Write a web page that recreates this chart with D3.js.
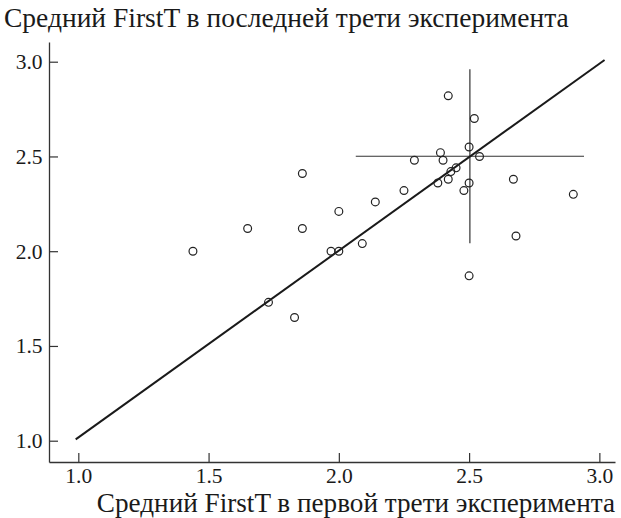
<!DOCTYPE html>
<html>
<head>
<meta charset="utf-8">
<script src="https://cdn.jsdelivr.net/npm/d3@7"></script>
<style>
  body { margin: 0; background: #fff; }
</style>
</head>
<body>
<svg id="chart" width="621" height="518"></svg>
<script>
// средние значения FirstT: первая треть (x) и последняя треть (y)
var firstThird = [2.42, 2.52, 2.50, 2.39, 2.29, 2.40, 2.54, 2.45, 2.43, 2.42,
                  2.38, 2.50, 2.48, 2.67, 2.90, 2.25, 2.14, 2.00, 2.09, 2.00,
                  1.97, 2.68, 2.50, 1.44, 1.65, 1.86, 1.73, 1.83, 1.86];
var lastThird  = [2.82, 2.70, 2.55, 2.52, 2.48, 2.48, 2.50, 2.44, 2.42, 2.38,
                  2.36, 2.36, 2.32, 2.38, 2.30, 2.32, 2.26, 2.21, 2.04, 2.00,
                  2.00, 2.08, 1.87, 2.00, 2.12, 2.12, 1.73, 1.65, 2.41];

// линия регрессии (концы)
var fitX = [0.99, 3.02];
var fitY = [1.007, 3.009];

// среднее +- разброс (крест)
var meanX = 2.503, spreadX = 0.438;
var meanY = 2.501, spreadY = 0.459;

var xTicks = [1.0, 1.5, 2.0, 2.5, 3.0];
var yTicks = [1.0, 1.5, 2.0, 2.5, 3.0];

var yTitle = "Средний FirstT в последней трети эксперимента";
var xTitle = "Средний FirstT в первой трети эксперимента";

var serif = "Liberation Serif, Times New Roman, serif";

var svg = d3.select("#chart"),
    margin = {top: 42, right: 6, bottom: 56, left: 49},
    width = +svg.attr("width") - margin.left - margin.right,
    height = +svg.attr("height") - margin.top - margin.bottom,
    g = svg.append("g").attr("transform", "translate(" + margin.left + "," + margin.top + ")");

var x = d3.scaleLinear().domain([0.8875, 3.06]).range([0, width]);
var y = d3.scaleLinear().domain([0.8876, 3.104]).range([height, 0]);

var fmt = d3.format(".1f");

// оси, засечки внутрь
var xAxis = g.append("g")
    .attr("transform", "translate(0," + height + ")")
    .call(d3.axisBottom(x).tickValues(xTicks).tickFormat(fmt).tickSizeInner(-9).tickSizeOuter(0).tickPadding(6));
var yAxis = g.append("g")
    .call(d3.axisLeft(y).tickValues(yTicks).tickFormat(fmt).tickSizeInner(-9).tickSizeOuter(0).tickPadding(6.5));

[xAxis, yAxis].forEach(function(a) {
  a.attr("font-family", serif).attr("font-size", 21.5);
  a.select(".domain").attr("stroke", "#333").attr("stroke-width", 1.3);
  a.selectAll(".tick line").attr("stroke", "#333").attr("stroke-width", 1.2);
  a.selectAll(".tick text").attr("fill", "#1a1a1a");
});

// крест среднего
g.append("line")
    .attr("x1", x(meanX - spreadX)).attr("x2", x(meanX + spreadX))
    .attr("y1", y(meanY)).attr("y2", y(meanY))
    .attr("stroke", "#333").attr("stroke-width", 1.2);
g.append("line")
    .attr("x1", x(meanX)).attr("x2", x(meanX))
    .attr("y1", y(meanY - spreadY)).attr("y2", y(meanY + spreadY))
    .attr("stroke", "#333").attr("stroke-width", 1.2);

// линия регрессии
g.append("line")
    .attr("x1", x(fitX[0])).attr("y1", y(fitY[0]))
    .attr("x2", x(fitX[1])).attr("y2", y(fitY[1]))
    .attr("stroke", "#1a1a1a").attr("stroke-width", 2);

// точки
g.append("g")
  .selectAll("circle")
  .data(firstThird)
  .enter().append("circle")
    .attr("cx", function(d) { return x(d); })
    .attr("cy", function(d, i) { return y(lastThird[i]); })
    .attr("r", 3.9)
    .attr("fill", "none")
    .attr("stroke", "#222")
    .attr("stroke-width", 1.2);

// подписи осей
svg.append("text")
    .attr("x", 4)
    .attr("y", 27)
    .attr("font-family", serif)
    .attr("font-size", 27.5)
    .attr("fill", "#1a1a1a")
    .text(yTitle);

svg.append("text")
    .attr("x", 615)
    .attr("y", 512)
    .attr("font-family", serif)
    .attr("font-size", 27.2)
    .attr("fill", "#1a1a1a")
    .attr("text-anchor", "end")
    .text(xTitle);
</script>
</body>
</html>
